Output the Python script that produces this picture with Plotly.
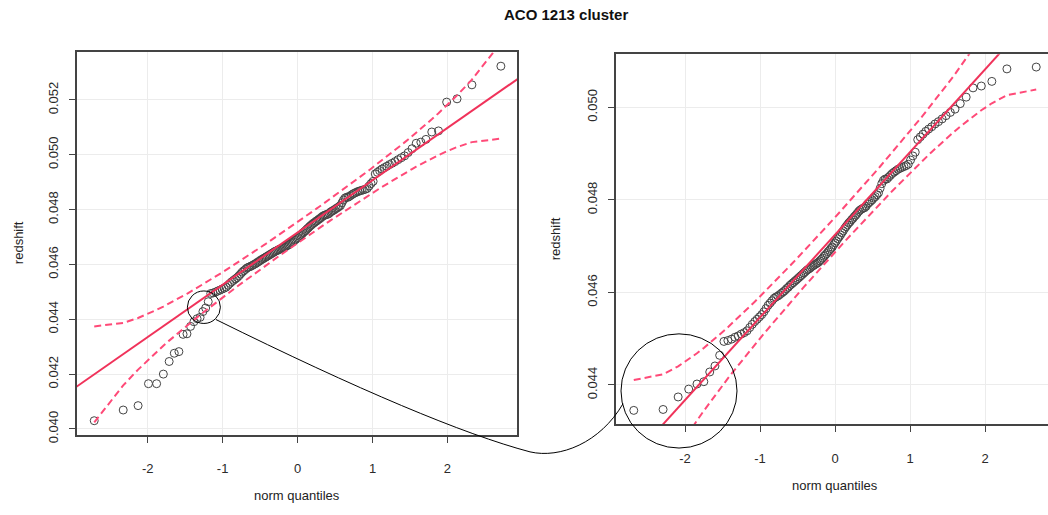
import numpy as np
import plotly.graph_objects as go
from statistics import NormalDist

# Sorted redshifts of the ACO 1213 member galaxies
low_tail = [0.04030, 0.04069, 0.04085, 0.04165, 0.04165, 0.04200, 0.04246, 0.04276, 0.04282]
core = [
    0.04345, 0.04347, 0.04374, 0.04391, 0.04402, 0.04407, 0.04428, 0.04441, 0.04464,
    0.04494, 0.04496, 0.04499, 0.04503, 0.04506, 0.04510, 0.04513, 0.04517, 0.04524, 0.04531,
    0.04537, 0.04542, 0.04547, 0.04552, 0.04558, 0.04565, 0.04572, 0.04577, 0.04582, 0.04587,
    0.04590, 0.04592, 0.04595, 0.04598, 0.04601, 0.04604, 0.04608, 0.04611, 0.04615, 0.04618,
    0.04621, 0.04624, 0.04627, 0.04630, 0.04633, 0.04636, 0.04639, 0.04642, 0.04645, 0.04648,
    0.04650, 0.04652, 0.04655, 0.04657, 0.04659, 0.04661, 0.04663, 0.04665, 0.04668, 0.04671,
    0.04674, 0.04678, 0.04681, 0.04684, 0.04688, 0.04691, 0.04695, 0.04698, 0.04703, 0.04707,
    0.04711, 0.04716, 0.04720, 0.04724, 0.04729, 0.04733, 0.04738, 0.04742, 0.04746, 0.04750,
    0.04753, 0.04757, 0.04760, 0.04764, 0.04767, 0.04771, 0.04775, 0.04778, 0.04780, 0.04782,
    0.04783, 0.04786, 0.04791, 0.04794, 0.04797, 0.04800, 0.04804, 0.04807, 0.04811, 0.04815,
    0.04825, 0.04835, 0.04842, 0.04845, 0.04845, 0.04849, 0.04853, 0.04857, 0.04860, 0.04863,
    0.04866, 0.04868, 0.04870, 0.04872, 0.04874, 0.04877, 0.04886, 0.04895, 0.04903, 0.04930,
    0.04936, 0.04942, 0.04948, 0.04953, 0.04958, 0.04964, 0.04969, 0.04975, 0.04982, 0.04989,
    0.04996, 0.05008, 0.05022, 0.05042, 0.05046, 0.05056, 0.05083, 0.05087,
]
high_tail = [0.05192, 0.05204, 0.05255, 0.05323]

redshift = low_tail + core + high_tail

# limits used for the trimmed (zoomed) sample
trim_low, trim_high = 0.0430, 0.0515

x_ticks = [-2, -1, 0, 1, 2]
x_tick_text = ["-2", "-1", "0", "1", "2"]
y_ticks_left = [0.040, 0.042, 0.044, 0.046, 0.048, 0.050, 0.052]
y_ticks_right = [0.044, 0.046, 0.048, 0.050]

W, H = 1048, 515
ND = NormalDist()
LINE_COL = "#f0325a"
DASH_COL = "#ff4a78"
PT_COL = "#444444"
FONT = "Liberation Sans, Arial, Helvetica, sans-serif"


def qq_parts(values, level=0.95):
    v = np.sort(np.asarray(values, dtype=float))
    n = len(v)
    a = 0.5 if n > 10 else 3 / 8
    P = (np.arange(1, n + 1) - a) / (n + 1 - 2 * a)
    z = np.array([ND.inv_cdf(p) for p in P])
    q1, q3 = np.percentile(v, [25, 75])
    slope = (q3 - q1) / (ND.inv_cdf(0.75) - ND.inv_cdf(0.25))
    intercept = q1 - slope * ND.inv_cdf(0.25)
    fit = intercept + slope * z
    dens = np.array([ND.pdf(t) for t in z])
    se = slope / dens * np.sqrt(P * (1 - P) / n)
    zz = ND.inv_cdf(1 - (1 - level) / 2)
    return z, v, slope, intercept, fit + zz * se, fit - zz * se


full = qq_parts(redshift)
trimmed = qq_parts([r for r in redshift if trim_low < r < trim_high])

fig = go.Figure()

for (z, v, slope, icpt, up, lo), xa, ya in [(full, "x", "y"), (trimmed, "x2", "y2")]:
    fig.add_trace(go.Scatter(
        x=z, y=v, mode="markers", xaxis=xa, yaxis=ya,
        marker=dict(symbol="circle-open", size=8, color=PT_COL, line=dict(width=1, color=PT_COL)),
        showlegend=False, hoverinfo="x+y"))
    xl = np.array([-3.5, 3.5])
    fig.add_trace(go.Scatter(
        x=xl, y=icpt + slope * xl, mode="lines", xaxis=xa, yaxis=ya,
        line=dict(color=LINE_COL, width=2), showlegend=False, hoverinfo="skip"))
    for band in (up, lo):
        fig.add_trace(go.Scatter(
            x=z, y=band, mode="lines", xaxis=xa, yaxis=ya,
            line=dict(color=DASH_COL, width=2, dash="7px,4px"), showlegend=False, hoverinfo="skip"))

# panel geometry (pixels)
L_box = dict(x0=77, x1=517, y0=53, y1=442)
R_box = dict(x0=616, x1=1048, y0=55, y1=431)
L_xr = [-2.943, 2.928]
L_yr = [0.039774, 0.053741]
R_xr = [-2.92, 2.84]
R_yr = [0.043149, 0.051149]


def axis_common():
    return dict(
        showline=True, linecolor="#444444", linewidth=1.5,
        ticks="outside", ticklen=6, tickwidth=1, tickcolor="#444444",
        showgrid=True, gridcolor="#ececec", gridwidth=1, zeroline=False,
        tickfont=dict(family=FONT, size=13, color="#2a2a2a"),
    )


fig.update_layout(
    width=W, height=H, margin=dict(l=0, r=0, t=0, b=0),
    paper_bgcolor="white", plot_bgcolor="white",
    font=dict(family=FONT, color="#222222"),
    xaxis=dict(domain=[L_box["x0"] / W, L_box["x1"] / W], range=L_xr,
               tickvals=x_ticks, ticktext=x_tick_text,
               mirror=True, anchor="y", ticklabelstandoff=15, **axis_common()),
    yaxis=dict(domain=[1 - L_box["y1"] / H, 1 - L_box["y0"] / H], range=L_yr,
               tickvals=y_ticks_left, ticktext=[f"{t:.3f}" for t in y_ticks_left], tickangle=-90,
               mirror=True, anchor="x", ticklabelstandoff=6, **axis_common()),
    xaxis2=dict(domain=[R_box["x0"] / W, 1.0], range=R_xr,
                tickvals=x_ticks, ticktext=x_tick_text,
                mirror=True, anchor="y2", ticklabelstandoff=15, **axis_common()),
    yaxis2=dict(domain=[1 - R_box["y1"] / H, 1 - R_box["y0"] / H], range=R_yr,
                tickvals=y_ticks_right, ticktext=[f"{t:.3f}" for t in y_ticks_right], tickangle=-90,
                mirror=False, anchor="x2", ticklabelstandoff=6, **axis_common()),
)


def to_px(box, xr, yr, xv, yv):
    px = box["x0"] + (xv - xr[0]) / (xr[1] - xr[0]) * (box["x1"] - box["x0"])
    py = box["y1"] - (yv - yr[0]) / (yr[1] - yr[0]) * (box["y1"] - box["y0"])
    return px, py


def fx(px):
    return px / W


def fy(py):
    return 1 - py / H


# highlighted lower-tail region in each panel
small_c = to_px(L_box, L_xr, L_yr, -1.25, 0.04444)
big_c = to_px(R_box, R_xr, R_yr, -2.08, 0.04387)
r_small, r_big = 16.5, 58

shapes = []
for (cx, cy), r in [(small_c, r_small), (big_c, r_big)]:
    shapes.append(dict(type="circle", xref="paper", yref="paper",
                       x0=fx(cx - r), x1=fx(cx + r), y0=fy(cy + r), y1=fy(cy - r),
                       line=dict(color="black", width=1)))

# connector between the two highlight circles
sx, sy = small_c[0] + 12, small_c[1] + 12.5
ex, ey = big_c[0] - 56, big_c[1] + 13
path = (f"M {fx(sx)},{fy(sy)} Q {fx(430)},{fy(432)} {fx(530)},{fy(459)} "
        f"C {fx(560)},{fy(466)} {fx(600)},{fy(450)} {fx(ex)},{fy(ey)}")
shapes.append(dict(type="path", xref="paper", yref="paper", path=path,
                   line=dict(color="black", width=1)))
fig.update_layout(shapes=shapes)

ann = [
    dict(text="<b>ACO 1213 cluster</b>", x=fx(566), y=fy(15), font=dict(size=15, color="#111111")),
    dict(text="norm quantiles", x=fx(297), y=fy(503), font=dict(size=13, color="#222222")),
    dict(text="norm quantiles", x=fx(835), y=fy(493), font=dict(size=13, color="#222222")),
    dict(text="redshift", x=fx(18), y=fy(247), textangle=-90, font=dict(size=13, color="#222222")),
    dict(text="redshift", x=fx(555), y=fy(243), textangle=-90, font=dict(size=13, color="#222222")),
]
for a in ann:
    a.update(xref="paper", yref="paper", showarrow=False, xanchor="center", yanchor="middle")
    a["font"]["family"] = FONT
fig.update_layout(annotations=ann)

fig.write_html("out.html")
